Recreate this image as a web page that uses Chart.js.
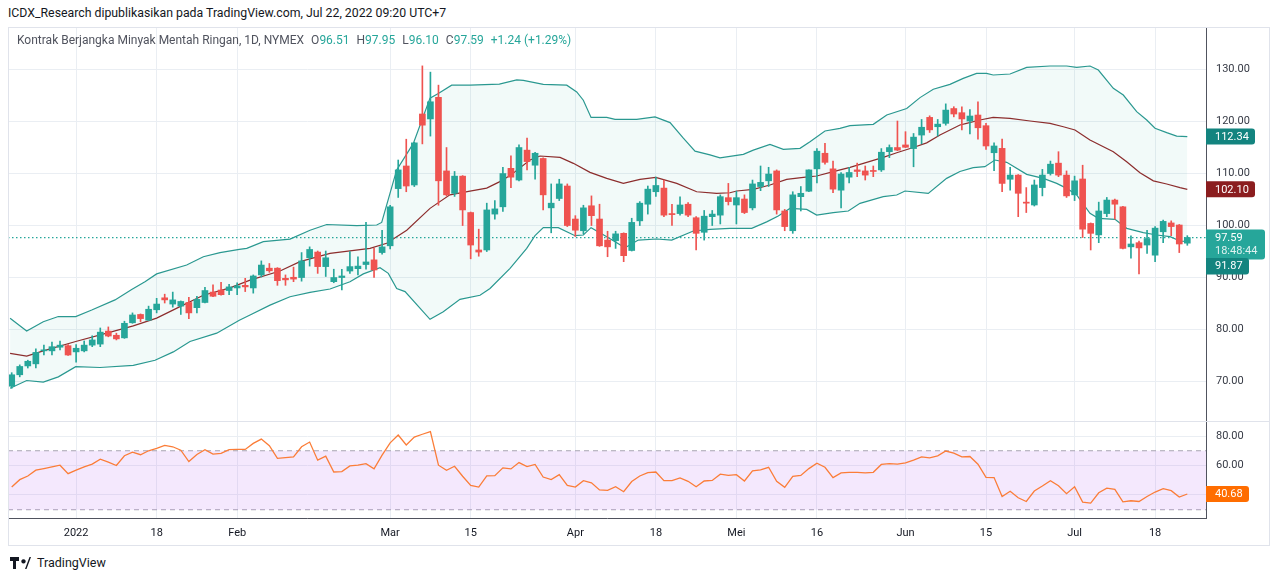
<!DOCTYPE html>
<html>
<head>
<meta charset="utf-8">
<script src="https://cdn.jsdelivr.net/npm/chart.js@4.4.0/dist/chart.umd.min.js"></script>
<style>
  body { margin: 0; background: #fff; width: 1280px; height: 581px; overflow: hidden; position: relative; font-family: Roboto, "Liberation Sans", sans-serif; }
  #hdr { position: absolute; left: 8px; top: 6px; font-size: 12.3px; color: #131722; white-space: nowrap; }
  #title { position: absolute; left: 17px; top: 33px; font-size: 12px; color: #50535e; white-space: nowrap; z-index: 3; }
  #title .v { color: #26a69a; }
  #title .g { margin-left: 7px; }
  #frame { position: absolute; left: 8px; top: 27px; width: 1262px; height: 519px; border: 1px solid #e0e3eb; box-sizing: border-box; z-index: 4; pointer-events: none; }
  #sep { position: absolute; left: 8px; top: 421px; width: 1262px; height: 1px; background: #e0e3eb; z-index: 4; }
  #main { position: absolute; left: 8px; top: 27px; }
  #rsi { position: absolute; left: 8px; top: 422px; }
  #logo { position: absolute; left: 10px; top: 555px; display: flex; align-items: center; gap: 6px; font-size: 12.5px; color: #131722; }
</style>
</head>
<body>
<div id="hdr">ICDX_Research dipublikasikan pada TradingView.com, Jul 22, 2022 09:20 UTC+7</div>
<div id="title"></div>
<canvas id="main" width="1262" height="394"></canvas>
<canvas id="rsi" width="1262" height="123"></canvas>
<div id="sep"></div>
<div id="frame"></div>
<div id="logo">
  <svg width="21" height="12" viewBox="0 0 21 12"><path d="M0 0h9v4H6v8H3V4H0z M13.5 2.2a2.2 2.2 0 1 1-0.01 0z M15 12 19.5 0H21l-4.5 12z" fill="#131722"/></svg>
  <span>TradingView</span>
</div>
<script>
// Daily candles, Dec 21 2021 .. Jul 22 2022 (147 trading days)
const opens = [
  69.0, 71.2, 72.9, 73.3, 75.8, 75.8, 76.5, 76.8, 75.6, 75.8,
  76.9, 77.1, 79.6, 78.8, 78.3, 81.2, 82.8, 81.7, 83.7, 86.0,
  84.8, 84.4, 85.1, 84.1, 85.1, 87.1, 87.5, 87.4, 87.9, 88.4,
  87.9, 90.4, 91.7, 91.7, 89.75, 89.95, 89.9, 93.7, 94.8, 92.0,
  89.1, 89.9, 91.15, 91.6, 92.4, 93.3, 94.7, 96.0, 107.0, 111.35,
  107.7, 121.35, 120.4, 124.55, 110.4, 106.1, 109.4, 102.4, 95.2, 95.2,
  102.1, 103.5, 110.9, 108.65, 114.4, 111.5, 112.8, 103.3, 105.1, 107.5,
  101.15, 98.9, 103.7, 101.15, 97.1, 97.0, 98.4, 95.1, 100.8, 104.0,
  106.4, 107.1, 102.2, 102.2, 104.0, 101.4, 98.6, 101.6, 101.9, 105.26,
  103.85, 105.0, 103.3, 107.4, 108.5, 110.4, 102.7, 98.9, 105.45, 106.5,
  110.8, 113.8, 110.8, 106.7, 109.2, 110.6, 110.4, 110.4, 110.6, 114.1,
  114.9, 115.4, 114.7, 117.3, 120.7, 118.9, 119.55, 122.4, 121.6, 120.0,
  121.15, 119.1, 113.9, 114.74, 108.8, 109.6, 104.4, 103.85, 107.2, 109.9,
  111.9, 109.6, 105.8, 108.85, 100.3, 98.1, 102.2, 104.8, 103.5, 95.8,
  96.6, 96.15, 94.2, 98.7, 100.4, 100.0, 96.51
];
const highs = [
  71.6, 73.1, 74.0, 76.2, 76.9, 77.5, 77.7, 77.0, 77.0, 77.7,
  78.7, 80.2, 80.4, 79.2, 81.5, 83.1, 82.9, 84.4, 85.9, 86.7,
  87.1, 85.4, 86.1, 86.3, 88.0, 88.5, 89.0, 88.6, 88.9, 89.75,
  90.4, 93.1, 92.6, 91.8, 90.4, 91.9, 94.7, 95.8, 95.0, 95.0,
  91.5, 91.5, 94.9, 93.9, 100.5, 95.5, 99.0, 103.8, 112.5, 116.5,
  115.9, 130.6, 129.4, 126.9, 114.9, 110.3, 109.5, 102.5, 99.2, 104.2,
  104.7, 111.1, 113.3, 115.4, 116.7, 114.0, 112.9, 107.9, 108.8, 107.9,
  101.8, 103.8, 105.6, 104.0, 98.8, 98.8, 98.5, 101.3, 104.5, 107.5,
  109.2, 108.65, 104.0, 105.4, 104.3, 101.6, 102.8, 102.8, 105.8, 108.0,
  106.5, 105.8, 108.65, 111.35, 111.1, 110.6, 103.0, 106.4, 107.4, 110.6,
  114.7, 115.7, 112.3, 110.1, 111.1, 111.9, 111.35, 111.35, 114.7, 115.4,
  120.0, 117.95, 117.6, 120.3, 121.0, 120.3, 123.3, 122.75, 122.75, 122.2,
  123.7, 119.55, 115.8, 116.54, 111.1, 109.7, 107.2, 108.65, 110.7, 112.3,
  114.1, 110.4, 109.4, 111.5, 100.4, 104.4, 105.3, 105.0, 103.6, 97.9,
  96.9, 99.0, 99.7, 100.96, 100.8, 100.1, 97.95
];
const lows = [
  68.6, 70.8, 72.5, 72.5, 75.0, 75.0, 76.0, 74.9, 73.6, 75.6,
  76.6, 76.6, 78.5, 77.9, 78.2, 81.1, 81.4, 81.6, 83.1, 85.0,
  84.2, 82.8, 82.0, 83.1, 85.0, 86.2, 86.5, 86.6, 86.6, 87.2,
  86.9, 90.0, 90.9, 88.4, 88.4, 89.1, 89.2, 92.1, 90.7, 90.1,
  88.9, 87.5, 90.7, 90.4, 91.5, 89.9, 94.4, 95.4, 105.3, 106.4,
  107.4, 115.6, 117.1, 103.8, 105.6, 105.5, 99.9, 93.5, 94.0, 94.9,
  101.1, 102.6, 107.2, 108.5, 110.6, 108.8, 102.9, 98.5, 104.7, 99.7,
  97.8, 98.3, 99.9, 95.9, 93.9, 95.5, 92.95, 95.0, 99.9, 102.1,
  105.5, 101.6, 99.9, 101.9, 101.6, 95.2, 97.1, 99.9, 100.2, 103.85,
  100.2, 102.2, 102.9, 106.6, 107.4, 102.1, 98.9, 98.4, 102.7, 106.4,
  108.1, 111.7, 106.2, 103.3, 108.1, 109.3, 108.65, 109.3, 110.3, 112.95,
  114.3, 114.9, 111.2, 115.6, 117.8, 117.1, 119.2, 120.8, 118.3, 117.5,
  116.5, 114.55, 110.45, 106.4, 106.7, 101.6, 102.4, 103.65, 105.6, 109.6,
  109.3, 105.3, 104.7, 97.6, 95.2, 96.6, 101.6, 101.1, 95.4, 93.6,
  90.6, 94.55, 92.95, 96.6, 97.95, 94.7, 96.10
];
const closes = [
  71.2, 72.8, 73.8, 75.5, 75.9, 76.6, 76.9, 75.0, 76.3, 76.9,
  77.9, 79.4, 78.65, 78.1, 81.1, 82.7, 82.0, 83.8, 84.8, 85.6,
  85.6, 85.3, 83.1, 85.7, 87.4, 86.3, 86.6, 88.1, 88.3, 88.1,
  90.2, 92.3, 91.2, 89.3, 89.45, 89.6, 93.1, 95.3, 92.0, 93.7,
  89.9, 90.2, 92.0, 92.1, 92.9, 91.35, 95.8, 103.5, 110.6, 107.5,
  115.8, 119.2, 123.7, 108.5, 105.8, 109.4, 102.9, 96.15, 94.8, 102.9,
  103.1, 109.9, 109.2, 114.9, 112.2, 113.8, 105.8, 104.2, 107.9, 99.9,
  99.0, 103.3, 101.8, 96.0, 95.8, 98.3, 94.1, 100.5, 104.2, 106.9,
  107.6, 101.9, 102.0, 103.85, 101.9, 98.4, 101.7, 102.1, 105.45, 104.5,
  105.26, 102.4, 107.9, 108.2, 109.8, 102.9, 99.7, 105.8, 106.1, 110.6,
  114.2, 112.05, 106.9, 109.8, 110.1, 110.3, 109.6, 110.3, 114.0, 114.9,
  114.4, 114.95, 116.9, 118.8, 118.3, 119.4, 122.1, 121.35, 120.4, 120.96,
  118.7, 115.2, 115.2, 108.0, 109.6, 106.1, 104.2, 107.7, 109.6, 111.7,
  109.6, 105.6, 108.5, 99.2, 98.4, 102.7, 104.8, 104.0, 95.5, 96.35,
  95.6, 97.4, 99.4, 100.7, 99.7, 96.35, 97.59
];

// Bollinger bands: [bar index, price]
const bbUpper = [
  [-0.2, 82.06], [1.86, 79.6], [3.92, 81.4], [5.79, 82.4], [7.95, 82.4], [9.94, 83.65], [12.83, 85.6],
  [14.9, 87.6], [16.55, 89.1], [18.0, 90.6], [21.73, 92.3], [23.8, 93.9], [25.87, 94.7], [28.27, 95.3],
  [29.19, 95.5], [31.25, 96.8], [34.56, 97.3], [37.05, 99.0], [39.12, 100.1], [42.85, 99.9], [45.33, 100.0],
  [45.95, 100.5], [46.98, 106.1], [47.81, 110.6], [49.88, 115.7], [51.95, 124.4], [52.98, 125.3],
  [54.64, 126.9], [56.91, 126.9], [60.56, 127.1], [62.72, 127.9], [63.54, 127.8], [66.02, 127.05],
  [68.93, 126.9], [70.17, 125.6], [70.99, 124.0], [71.95, 120.7], [73.9, 120.7], [74.93, 120.3],
  [77.62, 120.3], [79.89, 120.8], [81.76, 119.7], [83.41, 116.7], [84.86, 114.2], [86.72, 113.5],
  [87.96, 112.9], [90.86, 113.6], [92.1, 114.4], [94.17, 115.5], [95.83, 114.55], [97.9, 114.74],
  [99.14, 116.0], [101.0, 118.08], [102.86, 118.6], [104.11, 119.1], [107.0, 119.36], [108.67, 121.15],
  [111.15, 122.4], [112.8, 124.5], [114.45, 126.1], [116.52, 127.05], [118.17, 128.2], [119.83, 129.17],
  [121.07, 129.17], [121.89, 128.85], [123.98, 129.04], [126.05, 130.32], [128.95, 130.58],
  [131.02, 130.58], [132.26, 130.3], [133.91, 130.58], [134.95, 129.8], [136.81, 126.28], [138.05, 125.0],
  [139.71, 121.8], [140.96, 120.2], [141.99, 118.6], [143.44, 117.76], [144.68, 117.1], [146.0, 117.0]
];
const bbBasis = [
  [-0.2, 75.3], [1.86, 74.8], [3.92, 75.8], [7.95, 77.6], [11.8, 79.2], [15.1, 80.6], [18.0, 82.1],
  [20.9, 84.3], [23.8, 86.5], [27.11, 87.9], [29.6, 89.4], [33.32, 91.15], [35.8, 92.95], [39.53, 94.55],
  [44.5, 95.5], [46.57, 96.5], [49.06, 99.0], [51.95, 103.2], [54.42, 105.8], [56.91, 106.5],
  [58.99, 107.1], [60.56, 108.3], [61.89, 109.5], [64.37, 112.5], [65.61, 113.27], [68.1, 113.0],
  [69.75, 111.86], [71.82, 110.13], [73.9, 108.97], [75.96, 108.0], [78.03, 108.78], [79.98, 109.17],
  [82.59, 108.0], [85.07, 106.4], [87.55, 106.09], [89.2, 106.2], [90.04, 106.54], [92.1, 106.86],
  [94.17, 107.69], [96.24, 108.78], [98.31, 109.17], [99.97, 109.42], [102.03, 110.26], [104.11, 111.09],
  [106.18, 112.05], [108.24, 113.0], [109.91, 113.9], [111.97, 114.9], [113.63, 115.8], [115.28, 117.3],
  [117.76, 119.23], [118.59, 119.55], [120.24, 120.19], [121.89, 120.7], [123.98, 120.5], [126.47, 120.0],
  [128.95, 119.55], [130.6, 118.9], [132.05, 118.27], [133.91, 116.35], [136.81, 114.1], [138.47, 112.18],
  [140.12, 110.06], [141.78, 108.5], [143.44, 107.88], [145.09, 107.18], [146.0, 106.86]
];
const bbLower = [
  [-0.2, 68.6], [1.86, 70.1], [3.92, 69.8], [5.79, 70.8], [7.95, 72.75], [10.97, 72.6], [15.1, 73.0],
  [17.8, 74.0], [20.07, 75.6], [22.14, 77.6], [25.46, 79.2], [28.27, 81.7], [29.6, 82.7], [32.08, 84.6],
  [34.56, 86.2], [37.05, 87.05], [39.53, 87.7], [42.01, 89.1], [43.67, 90.6], [45.74, 91.8], [46.77, 90.7],
  [47.81, 87.8], [48.85, 87.2], [51.95, 81.86], [53.6, 83.3], [55.67, 85.7], [58.16, 86.5], [59.4, 87.8],
  [61.89, 91.67], [63.96, 95.5], [64.99, 97.95], [66.02, 99.49], [67.88, 99.49], [69.96, 97.95],
  [70.99, 98.08], [71.95, 99.49], [73.9, 97.76], [76.17, 95.64], [77.82, 97.1], [80.1, 97.31],
  [81.97, 97.1], [84.65, 98.85], [86.72, 99.17], [89.2, 99.36], [91.9, 99.36], [93.76, 100.6],
  [95.2, 101.73], [96.65, 103.2], [98.73, 103.0], [99.97, 101.9], [102.03, 102.37], [103.9, 102.7],
  [105.35, 104.17], [108.24, 105.45], [109.91, 105.77], [110.94, 106.54], [113.83, 106.09],
  [116.11, 108.97], [117.76, 110.3], [119.41, 111.03], [120.86, 111.22], [122.1, 112.5], [123.57, 112.05],
  [126.05, 109.74], [128.12, 108.97], [129.78, 108.0], [131.02, 107.05], [132.26, 105.77], [133.91, 102.24],
  [134.95, 101.28], [137.02, 101.09], [138.47, 99.36], [140.53, 98.53], [142.2, 98.08], [143.85, 97.76],
  [145.09, 96.92], [146.0, 96.8]
];

// RSI, one value per bar
const rsiValues = [
  45.4, 50.4, 52.9, 56.8, 57.9, 59.1, 60.2, 54.5, 56.8, 59.1,
  60.9, 64.3, 62.3, 60.0, 66.6, 69.1, 67.3, 70.0, 71.6, 73.6,
  72.7, 70.4, 62.7, 67.5, 70.7, 67.7, 68.2, 70.7, 70.9, 70.9,
  75.0, 77.9, 73.4, 64.8, 65.4, 65.9, 72.7, 75.9, 63.6, 66.3,
  55.6, 55.9, 59.7, 60.2, 61.3, 57.7, 67.0, 75.4, 80.7, 73.9,
  79.3, 81.2, 83.0, 60.2, 56.8, 59.5, 52.7, 46.5, 45.4, 52.9,
  53.1, 58.4, 57.7, 62.0, 59.3, 60.7, 52.2, 50.4, 53.8, 46.5,
  45.4, 49.7, 48.3, 43.4, 43.2, 45.6, 42.2, 49.1, 52.9, 55.2,
  55.6, 49.7, 49.7, 51.6, 49.3, 45.6, 49.5, 49.9, 54.1, 53.3,
  53.8, 49.5, 56.3, 57.0, 58.8, 49.3, 45.2, 52.7, 53.3, 57.9,
  61.6, 58.8, 51.8, 55.0, 55.4, 55.4, 55.0, 55.4, 60.7, 61.3,
  60.9, 61.8, 63.6, 65.9, 65.2, 66.6, 69.8, 68.4, 65.9, 66.1,
  60.9, 52.0, 51.8, 39.0, 42.5, 38.1, 35.6, 42.7, 46.1, 49.7,
  46.3, 40.9, 45.6, 35.2, 34.5, 41.5, 44.7, 43.8, 35.4, 36.1,
  35.6, 39.0, 42.0, 44.3, 42.9, 38.6, 40.68
];

const tickIdx = [8, 18, 28, 47, 57, 70, 80, 90, 100, 111, 121, 132, 142];
const tickLabels = ['2022', '18', 'Feb', 'Mar', '15', 'Apr', '18', 'Mei', '16', 'Jun', '15', 'Jul', '18'];
const priceTicks = [70, 80, 90, 100, 110, 120, 130];
const rsiTicks = [40, 60, 80];
const rsiBands = [70, 30];
const bandLabels = [112.34, 102.10, 91.87];
const countdown = '18:48:44';

// ---- helpers ----
const X_MIN = -0.46, X_MAX = 148.32;
const GREEN = '#26a69a', RED = '#ef5350', GRID = '#eaeef3', AXIS = '#50535e', TEXT = '#131722';
const n = closes.length;
const lastClose = closes[n - 1];
const candleColors = closes.map((c, i) => c >= opens[i] ? GREEN : RED);
const pts = arr => arr.map(([x, y]) => ({ x, y }));
const lastOf = arr => arr[arr.length - 1][1];
const flat = v => [{ x: X_MIN, y: v }, { x: X_MAX, y: v }];

// title line
const chg = lastClose - closes[n - 2];
document.getElementById('title').innerHTML =
  'Kontrak Berjangka Minyak Mentah Ringan, 1D, NYMEX' +
  '<span class="g">O<span class="v">' + opens[n - 1].toFixed(2) + '</span></span>' +
  '<span class="g">H<span class="v">' + highs[n - 1].toFixed(2) + '</span></span>' +
  '<span class="g">L<span class="v">' + lows[n - 1].toFixed(2) + '</span></span>' +
  '<span class="g">C<span class="v">' + lastClose.toFixed(2) + '</span></span>' +
  '<span class="g v">+' + chg.toFixed(2) + ' (+' + (chg / closes[n - 2] * 100).toFixed(2) + '%)</span>';

function fixSize(w, h) {
  return function (scale) {
    if (w != null) scale.width = w;
    if (h != null) scale.height = h;
    scale.paddingTop = 0; scale.paddingBottom = 0;
    scale.paddingLeft = 0; scale.paddingRight = 0;
  };
}
function setTicks(list) {
  return function (scale) { scale.ticks = list.map(v => ({ value: v })); };
}
function drawTag(ctx, x, top, w, h, bg, lines) {
  ctx.save();
  ctx.fillStyle = bg;
  ctx.beginPath();
  if (ctx.roundRect) ctx.roundRect(x, top, w, h, [0, 3, 3, 0]); else ctx.rect(x, top, w, h);
  ctx.fill();
  ctx.font = '11px Roboto';
  ctx.textBaseline = 'middle';
  lines.forEach(l => { ctx.fillStyle = l.color; ctx.fillText(l.text, x + 9, top + l.dy); });
  ctx.restore();
}

const mainTags = {
  id: 'mainTags',
  afterDraw(chart) {
    const { ctx, chartArea } = chart;
    const y = chart.scales.y, x0 = chartArea.right;
    const yU = y.getPixelForValue(lastOf(bbUpper));
    drawTag(ctx, x0, yU - 8, 49, 16, '#13847f', [{ text: bandLabels[0].toFixed(2), color: '#fff', dy: 8.5 }]);
    const yM = y.getPixelForValue(lastOf(bbBasis));
    drawTag(ctx, x0, yM - 8, 49, 16, '#8b1d1f', [{ text: bandLabels[1].toFixed(2), color: '#fff', dy: 8.5 }]);
    const yP = y.getPixelForValue(lastClose);
    drawTag(ctx, x0, yP - 8, 59, 30, GREEN, [
      { text: lastClose.toFixed(2), color: '#fff', dy: 8.5 },
      { text: countdown, color: 'rgba(255,255,255,0.85)', dy: 21.5 }
    ]);
    const yL = Math.max(y.getPixelForValue(lastOf(bbLower)) - 8, yP - 8 + 28.5);
    drawTag(ctx, x0, yL, 43, 16.5, '#13847f', [{ text: bandLabels[2].toFixed(2), color: '#fff', dy: 8.5 }]);
  }
};
const rsiTag = {
  id: 'rsiTag',
  afterDraw(chart) {
    const { ctx, chartArea } = chart;
    const v = rsiValues[n - 1];
    const yR = chart.scales.y.getPixelForValue(v);
    drawTag(ctx, chartArea.right, yR - 8, 43, 16, '#ff6d00', [{ text: v.toFixed(2), color: '#fff', dy: 8.5 }]);
  }
};

Chart.defaults.font.family = 'Roboto, "Liberation Sans", sans-serif';
Chart.defaults.animation = false;

// ---- main pane: candles + Bollinger bands ----
new Chart(document.getElementById('main'), {
  type: 'bar',
  data: {
    datasets: [
      {
        type: 'line', label: 'Upper', data: pts(bbUpper), borderColor: '#2a9890', borderWidth: 1.2,
        pointRadius: 0, fill: { target: 1, above: 'rgba(38,166,154,0.06)', below: 'rgba(38,166,154,0.06)' }, order: 5
      },
      { type: 'line', label: 'Lower', data: pts(bbLower), borderColor: '#2a9890', borderWidth: 1.2, pointRadius: 0, fill: false, order: 5 },
      { type: 'line', label: 'Basis', data: pts(bbBasis), borderColor: '#8c2d2d', borderWidth: 1.2, pointRadius: 0, fill: false, order: 4 },
      {
        type: 'line', label: 'Price', data: flat(lastClose), borderColor: GREEN, borderWidth: 1.2,
        borderDash: [1.5, 2.5], pointRadius: 0, fill: false, order: 3
      },
      {
        label: 'Wicks', data: lows.map((l, i) => ({ x: i, y: [l, highs[i]] })),
        backgroundColor: candleColors, barThickness: 1, grouped: false, order: 2
      },
      {
        label: 'Bodies', data: opens.map((o, i) => ({ x: i, y: [o, closes[i]] })),
        backgroundColor: candleColors, barThickness: 6, minBarLength: 1, grouped: false, order: 1
      }
    ]
  },
  options: {
    responsive: false,
    devicePixelRatio: 1,
    layout: { padding: 0 },
    plugins: { legend: { display: false }, tooltip: { enabled: false } },
    scales: {
      x: {
        type: 'linear', min: X_MIN, max: X_MAX, offset: false,
        grid: { color: GRID, drawTicks: false, offset: false },
        border: { display: false },
        ticks: { display: false },
        afterBuildTicks: setTicks(tickIdx),
        afterFit: fixSize(null, 0)
      },
      y: {
        position: 'right', min: 62.31, max: 138.08,
        grid: { color: GRID, drawTicks: false },
        border: { color: AXIS },
        ticks: { color: '#363a45', font: { size: 11 }, padding: 10, callback: v => v.toFixed(2) },
        afterBuildTicks: setTicks(priceTicks),
        afterFit: fixSize(64, null)
      }
    }
  },
  plugins: [mainTags]
});

// ---- RSI pane ----
new Chart(document.getElementById('rsi'), {
  type: 'line',
  data: {
    datasets: [
      { label: 'RSI', data: rsiValues.map((v, i) => ({ x: i, y: v })), borderColor: '#fb7d38', borderWidth: 1.3, pointRadius: 0, fill: false, order: 1 },
      {
        label: 'Upper band', data: flat(rsiBands[0]), borderColor: '#a7a4b0', borderWidth: 1, borderDash: [5, 4],
        pointRadius: 0, fill: { target: 2, above: 'rgba(178,100,240,0.15)', below: 'rgba(178,100,240,0.15)' }, order: 2
      },
      { label: 'Lower band', data: flat(rsiBands[1]), borderColor: '#a7a4b0', borderWidth: 1, borderDash: [5, 4], pointRadius: 0, fill: false, order: 2 }
    ]
  },
  options: {
    responsive: false,
    devicePixelRatio: 1,
    layout: { padding: 0 },
    plugins: { legend: { display: false }, tooltip: { enabled: false } },
    scales: {
      x: {
        type: 'linear', min: X_MIN, max: X_MAX,
        grid: { color: GRID, drawTicks: false },
        border: { color: AXIS },
        ticks: {
          color: TEXT, font: { size: 11 }, padding: 9, autoSkip: false, maxRotation: 0,
          callback: v => tickLabels[tickIdx.indexOf(v)] || ''
        },
        afterBuildTicks: setTicks(tickIdx),
        afterFit: fixSize(null, 27)
      },
      y: {
        position: 'right', min: 24.4, max: 89.5,
        grid: { color: GRID, drawTicks: false },
        border: { color: AXIS },
        ticks: { color: '#363a45', font: { size: 11 }, padding: 10, callback: v => v.toFixed(2) },
        afterBuildTicks: setTicks(rsiTicks),
        afterFit: fixSize(64, null)
      }
    }
  },
  plugins: [rsiTag]
});
</script>
</body>
</html>
